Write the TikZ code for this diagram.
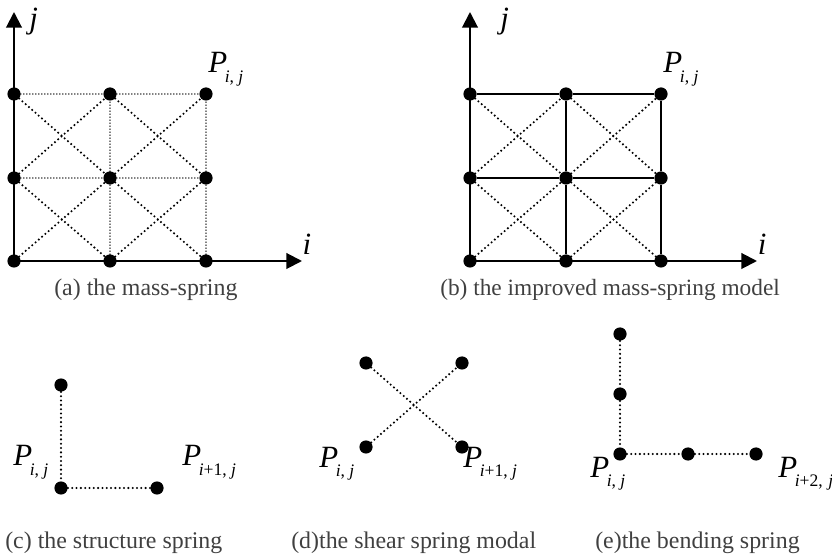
\documentclass[tikz,border=0pt]{standalone}
\usepackage{fontspec}
\setmainfont{Liberation Serif}
\usetikzlibrary{arrows.meta}
\newcommand{\ptlabel}[1]{\fontsize{22}{22}\selectfont\textit{P}\kern-0.6mm\raisebox{-2.3mm}{\fontsize{12.5}{12.5}\selectfont #1}}
\tikzset{
	mass/.style={circle,fill=black,inner sep=0pt,minimum size=3.3mm},
	springdots/.style={line width=0.58mm,line cap=round,dash pattern=on 0pt off 1.08mm},
	springfine/.style={line width=0.4mm,line cap=round,dash pattern=on 0pt off 0.75mm},
	springsolid/.style={line width=0.36mm},
	axisline/.style={line width=0.5mm,-{Triangle[length=3.9mm,width=3.9mm]}},
	lbl/.style={anchor=base west,inner sep=0pt},
	axislbl/.style={lbl,font=\fontsize{22}{22}\selectfont\itshape},
	caption/.style={lbl,text=black!75,font=\fontsize{17}{17}\selectfont},
}
\begin{document}
\begin{tikzpicture}
	\useasboundingbox (0mm,0mm) rectangle (208mm,138.75mm);
	%grid nodes of (a) and (b)
	\foreach \row/\ypos in {1/73.5,2/94.25,3/115.25}{
		\node[mass] (a\row1) at (3.5mm,\ypos mm) {};
		\node[mass] (a\row2) at (27.5mm,\ypos mm) {};
		\node[mass] (a\row3) at (51.5mm,\ypos mm) {};
		\node[mass] (b\row1) at (117.5mm,\ypos mm) {};
		\node[mass] (b\row2) at (141.5mm,\ypos mm) {};
		\node[mass] (b\row3) at (165.25mm,\ypos mm) {};
	}
	%axes
	\coordinate (atop) at (3.5mm,135.75mm);
	\coordinate (aright) at (75.5mm,73.5mm);
	\coordinate (btop) at (117.5mm,135.75mm);
	\coordinate (bright) at (189.25mm,73.5mm);
	\draw[axisline] (a11.center)--(atop);
	\draw[axisline] (a11.center)--(aright);
	\draw[axisline] (b11.center)--(btop);
	\draw[axisline] (b11.center)--(bright);
	%diagonal springs
	\foreach \grid in {a,b}{
		\foreach \r/\s in {1/2,2/3}{
			\foreach \c/\d in {1/2,2/3}{
				\draw[springdots] (\grid\r\c)--(\grid\s\d);
				\draw[springdots] (\grid\s\c)--(\grid\r\d);
			}
		}
	}
	%straight springs
	\foreach \r in {2,3}{
		\draw[springfine] (a\r1)--(a\r2);
		\draw[springfine] (a\r2)--(a\r3);
		\draw[springsolid] (b\r1)--(b\r2);
		\draw[springsolid] (b\r2)--(b\r3);
	}
	\foreach \c in {2,3}{
		\draw[springfine] (a1\c)--(a2\c);
		\draw[springfine] (a2\c)--(a3\c);
		\draw[springsolid] (b1\c)--(b2\c);
		\draw[springsolid] (b2\c)--(b3\c);
	}
	\draw[springsolid] (b11)--(b12);
	\draw[springsolid] (b12)--(b13);
	\draw[springsolid] (b11)--(b21);
	\draw[springsolid] (b21)--(b31);
	\node[axislbl] (jA) at (7.3mm,131.7mm) {j};
	\node[axislbl] (iA) at (75.6mm,75mm) {i};
	\node[axislbl] (jB) at (125mm,131.7mm) {j};
	\node[axislbl] (iB) at (189.4mm,75mm) {i};
	\node[lbl] (pA) at (52mm,120.5mm) {\ptlabel{\textit{i}, \textit{j}}};
	\node[lbl] (pB) at (165.8mm,120.5mm) {\ptlabel{\textit{i}, \textit{j}}};
	\node[caption] (capA) at (13.5mm,64.9mm) {(a) the mass-spring};
	\node[caption,font=\fontsize{16.6}{16.6}\selectfont] (capB) at (110mm,64.9mm) {(b) the improved mass-spring model};
	%structure spring
	\node[mass] (c1) at (15.25mm,42.5mm) {};
	\node[mass] (c2) at (15.25mm,16.75mm) {};
	\node[mass] (c3) at (39.25mm,16.75mm) {};
	\draw[springdots] (c1)--(c2);
	\draw[springdots] (c2)--(c3);
	\node[lbl] (pC) at (3.25mm,22.25mm) {\ptlabel{\textit{i}, \textit{j}}};
	\node[lbl] (qC) at (45.5mm,22.25mm) {\ptlabel{\textit{i}+1, \textit{j}}};
	\node[caption] (capC) at (1.25mm,1.75mm) {(c) the structure spring};
	%shear spring
	\node[mass] (d1) at (91.5mm,48mm) {};
	\node[mass] (d2) at (115.5mm,48mm) {};
	\node[mass] (d3) at (91.5mm,27mm) {};
	\node[mass] (d4) at (115.5mm,27mm) {};
	\draw[springdots] (d1)--(d4);
	\draw[springdots] (d3)--(d2);
	\node[lbl] (pD) at (79.75mm,22mm) {\ptlabel{\textit{i}, \textit{j}}};
	\node[lbl] (qD) at (115.75mm,22mm) {\ptlabel{\textit{i}+1, \textit{j}}};
	\node[caption] (capD) at (72.75mm,1.75mm) {(d)the shear spring modal};
	%bending spring
	\node[mass] (e1) at (155mm,55.25mm) {};
	\node[mass] (e2) at (155mm,40.25mm) {};
	\node[mass] (e3) at (155mm,25.25mm) {};
	\node[mass] (e4) at (172mm,25.25mm) {};
	\node[mass] (e5) at (189mm,25.25mm) {};
	\draw[springdots] (e1)--(e2);
	\draw[springdots] (e2)--(e3);
	\draw[springdots] (e3)--(e4);
	\draw[springdots] (e4)--(e5);
	\node[lbl] (pE) at (147.5mm,19.5mm) {\ptlabel{\textit{i}, \textit{j}}};
	\node[lbl] (qE) at (194.5mm,19.5mm) {\ptlabel{\textit{i}+2,\kern1.4mm\textit{j}}};
	\node[caption] (capE) at (148.75mm,1.75mm) {(e)the bending spring};
\end{tikzpicture}
\end{document}
